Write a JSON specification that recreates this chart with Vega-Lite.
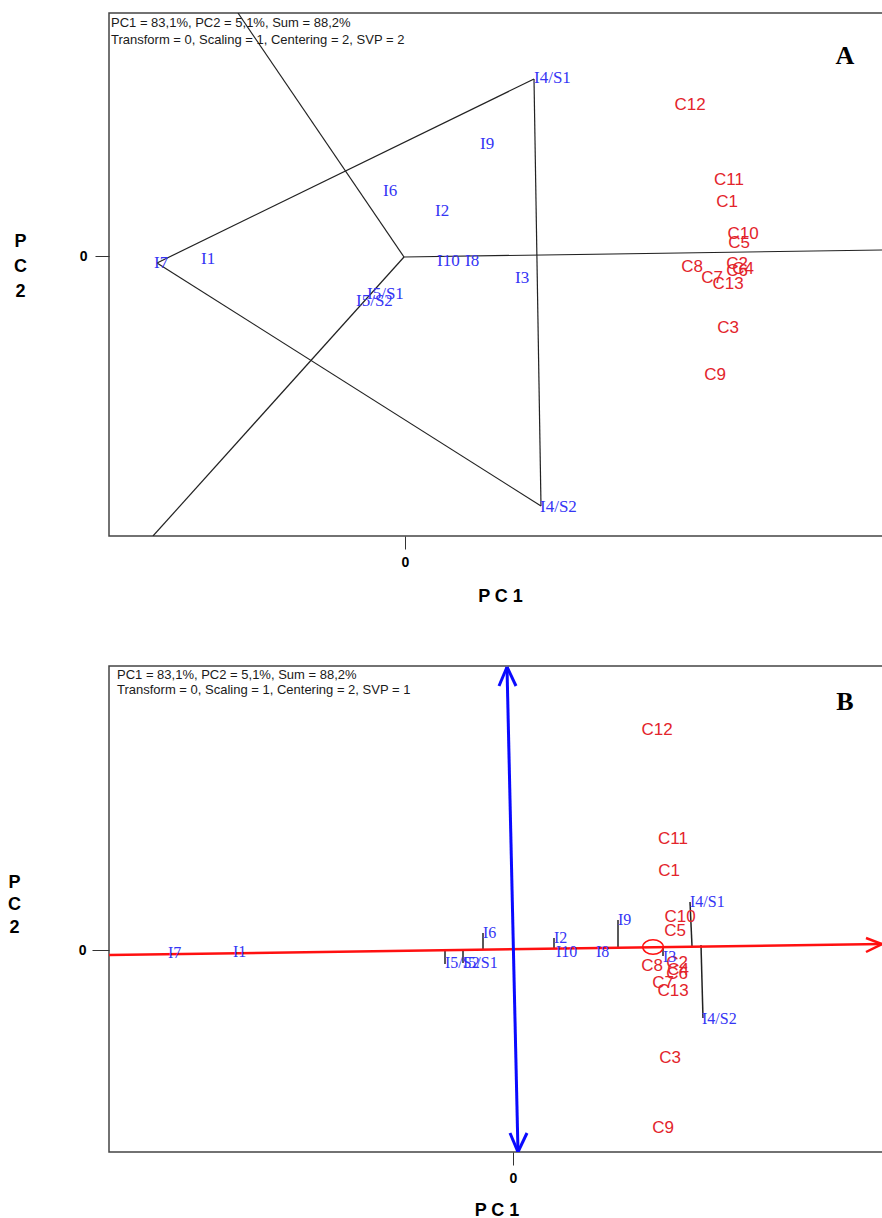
{
  "$schema": "https://vega.github.io/schema/vega-lite/v6.json",
  "padding": {"left": 6, "top": 12, "right": 0, "bottom": 0},
  "spacing": 59,
  "background": "white",
  "config": {"view": {"stroke": "#444", "strokeWidth": 1.5}, "font": "Liberation Sans"},
  "datasets": {
    "segA": [
      {"x": -2.48, "y": -0.07, "x2": 1.29, "y2": 1.77},
      {"x": 1.29, "y": 1.77, "x2": 1.36, "y2": -2.50},
      {"x": 1.36, "y": -2.50, "x2": -2.48, "y2": -0.07},
      {"x": -0.01, "y": -0.01, "x2": -1.67, "y2": 2.43},
      {"x": -0.01, "y": -0.01, "x2": 4.78, "y2": 0.06},
      {"x": -0.01, "y": -0.01, "x2": -2.52, "y2": -2.80}
    ],
    "genoA": [
      {"label": "C12", "x": 2.85, "y": 1.51},
      {"label": "C11", "x": 3.24, "y": 0.76},
      {"label": "C1", "x": 3.22, "y": 0.54},
      {"label": "C10", "x": 3.38, "y": 0.22},
      {"label": "C5", "x": 3.34, "y": 0.13},
      {"label": "C8", "x": 2.87, "y": -0.11},
      {"label": "C2", "x": 3.32, "y": -0.08},
      {"label": "C4", "x": 3.38, "y": -0.13},
      {"label": "C6", "x": 3.32, "y": -0.15},
      {"label": "C7", "x": 3.07, "y": -0.22},
      {"label": "C13", "x": 3.23, "y": -0.28},
      {"label": "C3", "x": 3.23, "y": -0.72},
      {"label": "C9", "x": 3.10, "y": -1.19}
    ],
    "envA": [
      {"label": "I4/S1", "x": 1.29, "y": 1.78},
      {"label": "I9", "x": 0.75, "y": 1.12},
      {"label": "I6", "x": -0.22, "y": 0.65},
      {"label": "I2", "x": 0.30, "y": 0.45},
      {"label": "I7", "x": -2.51, "y": -0.07},
      {"label": "I1", "x": -2.04, "y": -0.03},
      {"label": "I10", "x": 0.32, "y": -0.05},
      {"label": "I8", "x": 0.60, "y": -0.05},
      {"label": "I3", "x": 1.10, "y": -0.22},
      {"label": "I5/S1", "x": -0.38, "y": -0.38},
      {"label": "I5/S2", "x": -0.49, "y": -0.45},
      {"label": "I4/S2", "x": 1.35, "y": -2.51}
    ],
    "notesA": [
      {"label": "PC1 = 83,1%, PC2 = 5,1%, Sum = 88,2%", "x": -2.94, "y": 2.33},
      {"label": "Transform = 0, Scaling = 1, Centering = 2, SVP = 2", "x": -2.94, "y": 2.16}
    ],
    "letterA": [{"label": "A", "x": 4.40, "y": 2.00}],
    "redB": [
      {"x": -4.04, "y": -0.05, "x2": 3.69, "y2": 0.06},
      {"x": 3.69, "y": 0.06, "x2": 3.53, "y2": 0.12},
      {"x": 3.69, "y": 0.06, "x2": 3.53, "y2": -0.02}
    ],
    "blueB": [
      {"x": -0.06, "y": 2.83, "x2": 0.05, "y2": -2.02},
      {"x": -0.06, "y": 2.83, "x2": -0.14, "y2": 2.64},
      {"x": -0.06, "y": 2.83, "x2": 0.03, "y2": 2.64},
      {"x": 0.05, "y": -2.02, "x2": -0.03, "y2": -1.83},
      {"x": 0.05, "y": -2.02, "x2": 0.14, "y2": -1.83}
    ],
    "projB": [
      {"x": -0.68, "y": -0.01, "x2": -0.68, "y2": -0.14},
      {"x": -0.50, "y": -0.01, "x2": -0.50, "y2": -0.13},
      {"x": -0.30, "y": 0.00, "x2": -0.30, "y2": 0.17},
      {"x": 0.41, "y": 0.01, "x2": 0.41, "y2": 0.12},
      {"x": 1.05, "y": 0.02, "x2": 1.05, "y2": 0.30},
      {"x": 1.50, "y": 0.02, "x2": 1.50, "y2": -0.06},
      {"x": 1.79, "y": 0.04, "x2": 1.77, "y2": 0.48},
      {"x": 1.88, "y": 0.05, "x2": 1.90, "y2": -0.68}
    ],
    "circleB": [{"x": 1.40, "y": 0.03}],
    "genoB": [
      {"label": "C12", "x": 1.44, "y": 2.20},
      {"label": "C11", "x": 1.60, "y": 1.11},
      {"label": "C1", "x": 1.56, "y": 0.79},
      {"label": "C10", "x": 1.67, "y": 0.33},
      {"label": "C5", "x": 1.62, "y": 0.19},
      {"label": "C8", "x": 1.39, "y": -0.16},
      {"label": "C2", "x": 1.64, "y": -0.13},
      {"label": "C4", "x": 1.65, "y": -0.20},
      {"label": "C6", "x": 1.64, "y": -0.24},
      {"label": "C7", "x": 1.50, "y": -0.33},
      {"label": "C13", "x": 1.60, "y": -0.41},
      {"label": "C3", "x": 1.57, "y": -1.08},
      {"label": "C9", "x": 1.50, "y": -1.78}
    ],
    "envB": [
      {"label": "I7", "x": -3.45, "y": -0.03},
      {"label": "I1", "x": -2.80, "y": -0.02},
      {"label": "I5/S2", "x": -0.68, "y": -0.13},
      {"label": "I5/S1", "x": -0.50, "y": -0.13},
      {"label": "I6", "x": -0.30, "y": 0.17},
      {"label": "I2", "x": 0.41, "y": 0.12},
      {"label": "I10", "x": 0.43, "y": -0.02},
      {"label": "I8", "x": 0.83, "y": -0.02},
      {"label": "I9", "x": 1.05, "y": 0.30},
      {"label": "I3", "x": 1.50, "y": -0.07},
      {"label": "I4/S1", "x": 1.77, "y": 0.48},
      {"label": "I4/S2", "x": 1.89, "y": -0.69}
    ],
    "notesB": [
      {"label": "PC1 = 83,1%, PC2 = 5,1%, Sum = 88,2%", "x": -3.96, "y": 2.75},
      {"label": "Transform = 0, Scaling = 1, Centering = 2, SVP = 1", "x": -3.96, "y": 2.60}
    ],
    "letterB": [{"label": "B", "x": 3.32, "y": 2.48}]
  },
  "vconcat": [
    {
      "width": 774,
      "height": 523,
      "layer": [
        {
          "data": {"name": "segA"},
          "mark": {"type": "rule", "color": "#222", "strokeWidth": 1.2, "clip": true},
          "encoding": {
            "x": {"field": "x", "type": "quantitative",
              "scale": {"domain": [-2.96, 4.78], "nice": false, "zero": false},
              "axis": {"values": [0], "format": ".0f", "domain": false, "grid": false, "tickSize": 13, "tickColor": "#333",
                "labelFontSize": 14, "labelFontWeight": "bold", "labelColor": "#000", "labelPadding": 6,
                "title": "P C 1", "titleFontSize": 18, "titleFontWeight": "bold", "titleColor": "#000",
                "titlePadding": 18, "titleX": 391}},
            "y": {"field": "y", "type": "quantitative",
              "scale": {"domain": [-2.80, 2.43], "nice": false, "zero": false},
              "axis": {"values": [0], "format": ".0f", "domain": false, "grid": false, "tickSize": 14, "tickColor": "#333",
                "labelFontSize": 14, "labelFontWeight": "bold", "labelColor": "#000", "labelPadding": 8,
                "title": ["P", "C", "2"], "titleAngle": 0, "titleFontSize": 18, "titleFontWeight": "bold",
                "titleColor": "#000", "titleX": -89, "titleY": 228, "titleAlign": "center",
                "titleBaseline": "middle", "titleLineHeight": 25}},
            "x2": {"field": "x2"},
            "y2": {"field": "y2"}
          }
        },
        {
          "data": {"name": "genoA"},
          "mark": {"type": "text", "color": "#e3242b", "fontSize": 17, "font": "Liberation Sans", "align": "center", "baseline": "middle"},
          "encoding": {
            "x": {"field": "x", "type": "quantitative"},
            "y": {"field": "y", "type": "quantitative"},
            "text": {"field": "label"}
          }
        },
        {
          "data": {"name": "envA"},
          "mark": {"type": "text", "color": "#3535f5", "fontSize": 17, "font": "Liberation Serif", "align": "left", "baseline": "middle"},
          "encoding": {
            "x": {"field": "x", "type": "quantitative"},
            "y": {"field": "y", "type": "quantitative"},
            "text": {"field": "label"}
          }
        },
        {
          "data": {"name": "notesA"},
          "mark": {"type": "text", "color": "#1a1a1a", "fontSize": 13, "font": "Liberation Sans", "align": "left", "baseline": "middle"},
          "encoding": {
            "x": {"field": "x", "type": "quantitative"},
            "y": {"field": "y", "type": "quantitative"},
            "text": {"field": "label"}
          }
        },
        {
          "data": {"name": "letterA"},
          "mark": {"type": "text", "color": "#000", "fontSize": 26, "fontWeight": "bold", "font": "Liberation Serif", "align": "center", "baseline": "middle"},
          "encoding": {
            "x": {"field": "x", "type": "quantitative"},
            "y": {"field": "y", "type": "quantitative"},
            "text": {"field": "label"}
          }
        }
      ]
    },
    {
      "width": 775,
      "height": 486,
      "layer": [
        {
          "data": {"name": "projB"},
          "mark": {"type": "rule", "color": "#222", "strokeWidth": 1.5, "clip": true},
          "encoding": {
            "x": {"field": "x", "type": "quantitative",
              "scale": {"domain": [-4.04, 3.71], "nice": false, "zero": false},
              "axis": {"values": [0], "format": ".0f", "domain": false, "grid": false, "tickSize": 13, "tickColor": "#333",
                "labelFontSize": 14, "labelFontWeight": "bold", "labelColor": "#000", "labelPadding": 6,
                "title": "P C 1", "titleFontSize": 18, "titleFontWeight": "bold", "titleColor": "#000",
                "titlePadding": 16}},
            "y": {"field": "y", "type": "quantitative",
              "scale": {"domain": [-2.02, 2.84], "nice": false, "zero": false},
              "axis": {"values": [0], "format": ".0f", "domain": false, "grid": false, "tickSize": 17, "tickColor": "#333",
                "labelFontSize": 14, "labelFontWeight": "bold", "labelColor": "#000", "labelPadding": 6,
                "title": ["P", "C", "2"], "titleAngle": 0, "titleFontSize": 18, "titleFontWeight": "bold",
                "titleColor": "#000", "titleX": -95, "titleY": 216, "titleAlign": "center",
                "titleBaseline": "middle", "titleLineHeight": 22.5}},
            "x2": {"field": "x2"},
            "y2": {"field": "y2"}
          }
        },
        {
          "data": {"name": "redB"},
          "mark": {"type": "rule", "color": "#ff1010", "strokeWidth": 2.5, "clip": true},
          "encoding": {
            "x": {"field": "x", "type": "quantitative"},
            "y": {"field": "y", "type": "quantitative"},
            "x2": {"field": "x2"},
            "y2": {"field": "y2"}
          }
        },
        {
          "data": {"name": "blueB"},
          "mark": {"type": "rule", "color": "#0a0aff", "strokeWidth": 3, "clip": true},
          "encoding": {
            "x": {"field": "x", "type": "quantitative"},
            "y": {"field": "y", "type": "quantitative"},
            "x2": {"field": "x2"},
            "y2": {"field": "y2"}
          }
        },
        {
          "data": {"name": "circleB"},
          "mark": {"type": "point", "shape": "M-1,0A1,0.7 0 1,0 1,0A1,0.7 0 1,0 -1,0Z", "size": 420, "filled": false, "stroke": "#ff1010", "strokeWidth": 1.5, "opacity": 1},
          "encoding": {
            "x": {"field": "x", "type": "quantitative"},
            "y": {"field": "y", "type": "quantitative"}
          }
        },
        {
          "data": {"name": "genoB"},
          "mark": {"type": "text", "color": "#e3242b", "fontSize": 17, "font": "Liberation Sans", "align": "center", "baseline": "middle"},
          "encoding": {
            "x": {"field": "x", "type": "quantitative"},
            "y": {"field": "y", "type": "quantitative"},
            "text": {"field": "label"}
          }
        },
        {
          "data": {"name": "envB"},
          "mark": {"type": "text", "color": "#3535f5", "fontSize": 16, "font": "Liberation Serif", "align": "left", "baseline": "middle"},
          "encoding": {
            "x": {"field": "x", "type": "quantitative"},
            "y": {"field": "y", "type": "quantitative"},
            "text": {"field": "label"}
          }
        },
        {
          "data": {"name": "notesB"},
          "mark": {"type": "text", "color": "#1a1a1a", "fontSize": 13, "font": "Liberation Sans", "align": "left", "baseline": "middle"},
          "encoding": {
            "x": {"field": "x", "type": "quantitative"},
            "y": {"field": "y", "type": "quantitative"},
            "text": {"field": "label"}
          }
        },
        {
          "data": {"name": "letterB"},
          "mark": {"type": "text", "color": "#000", "fontSize": 26, "fontWeight": "bold", "font": "Liberation Serif", "align": "center", "baseline": "middle"},
          "encoding": {
            "x": {"field": "x", "type": "quantitative"},
            "y": {"field": "y", "type": "quantitative"},
            "text": {"field": "label"}
          }
        }
      ]
    }
  ]
}
